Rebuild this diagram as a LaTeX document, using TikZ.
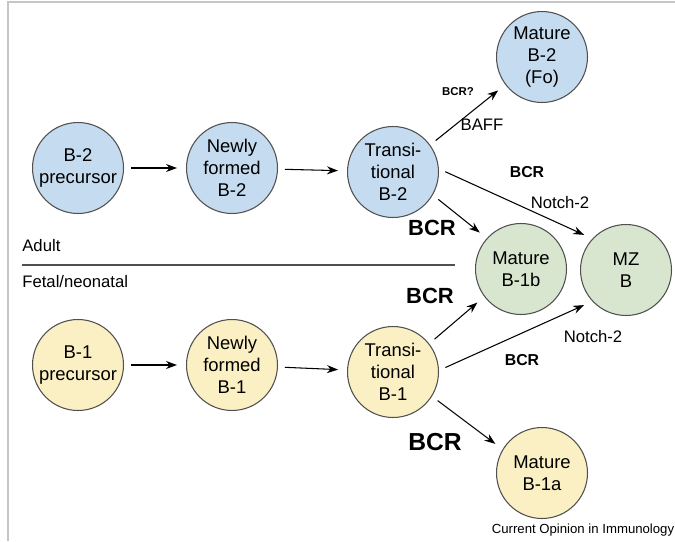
\documentclass[tikz,border=0pt]{standalone}
\usepackage{fontspec}
\setmainfont{Liberation Sans}
\usetikzlibrary{arrows.meta}
\definecolor{cellblue}{HTML}{C5DCF0}
\definecolor{cellgreen}{HTML}{D8E6CF}
\definecolor{cellyellow}{HTML}{FAF0C3}
\definecolor{cellline}{HTML}{505050}
\tikzset{
  cell/.style={circle,draw=cellline,line width=0.6pt,minimum size=1.82cm,inner sep=0pt,
    align=center,font=\fontsize{10.5}{12.5}\selectfont},
  arr/.style={-{Stealth[length=2.2mm,width=1.6mm]},line width=0.6pt,shorten <=1.4mm,shorten >=1.8mm},
  lab/.style={font=\fontsize{9.5}{11}\selectfont},
  bcr/.style={font=\bfseries\fontsize{#1}{#1}\selectfont},
}
\begin{document}
\begin{tikzpicture}[x=0.02cm,y=-0.02cm]
  \useasboundingbox (0,0) rectangle (675,541);
  \draw[gray!45,line width=0.8pt] (675,2) -- (8,2) -- (8,541);

  \node[cell,fill=cellblue] (b2p) at (78,168) {B-2\\precursor};
  \node[cell,fill=cellblue] (nb2) at (232,168) {Newly\\formed\\B-2};
  \node[cell,fill=cellblue] (tb2) at (393,172) {Transi-\\tional\\B-2};
  \node[cell,fill=cellblue] (m2fo) at (542,57) {Mature\\B-2\\(Fo)};
  \node[cell,fill=cellgreen] (m1b) at (521,269) {Mature\\B-1b};
  \node[cell,fill=cellgreen] (mz) at (626,270) {MZ\\B};
  \node[cell,fill=cellyellow] (b1p) at (78,365) {B-1\\precursor};
  \node[cell,fill=cellyellow] (nb1) at (232,365) {Newly\\formed\\B-1};
  \node[cell,fill=cellyellow] (tb1) at (393,372) {Transi-\\tional\\B-1};
  \node[cell,fill=cellyellow] (m1a) at (542,473) {Mature\\B-1a};

  \draw[arr] (b2p) -- (nb2);
  \draw[arr] (nb2) -- (tb2);
  \draw[arr] (b1p) -- (nb1);
  \draw[arr] (nb1) -- (tb1);
  \draw[arr] (tb2.36) -- (m2fo.217);
  \draw[arr] (tb2.4) -- (mz.137);
  \draw[arr] (tb2.-30) -- (m1b.138);
  \draw[arr] (tb1.38) -- (m1b.217);
  \draw[arr] (tb1.2) -- (mz.223);
  \draw[arr] (tb1.-32) -- (m1a.149);

  \node[bcr=6.5] (lbcrq) at (458,92) {BCR?};
  \node[lab] (lbaff) at (482,125) {BAFF};
  \node[bcr=9] (lbcra) at (527,172) {BCR};
  \node[lab] (lnotcha) at (560,203) {Notch-2};
  \node[bcr=12.5] (lbcrb) at (432,228) {BCR};
  \node[bcr=12.5] (lbcrc) at (430,296) {BCR};
  \node[lab] (lnotchb) at (593,337) {Notch-2};
  \node[bcr=9] (lbcrd) at (522,360) {BCR};
  \node[bcr=14] (lbcre) at (435,442) {BCR};

  \draw[cellline,line width=0.6pt] (22,265) -- (455,265);
  \node[lab,anchor=west,inner sep=0pt] (adult) at (22,246) {Adult};
  \node[lab,anchor=west,inner sep=0pt] (fetal) at (22,282) {Fetal/neonatal};
  \node[font=\fontsize{7.5}{9}\selectfont] (credit) at (583,530) {Current Opinion in Immunology};
\end{tikzpicture}
\end{document}
